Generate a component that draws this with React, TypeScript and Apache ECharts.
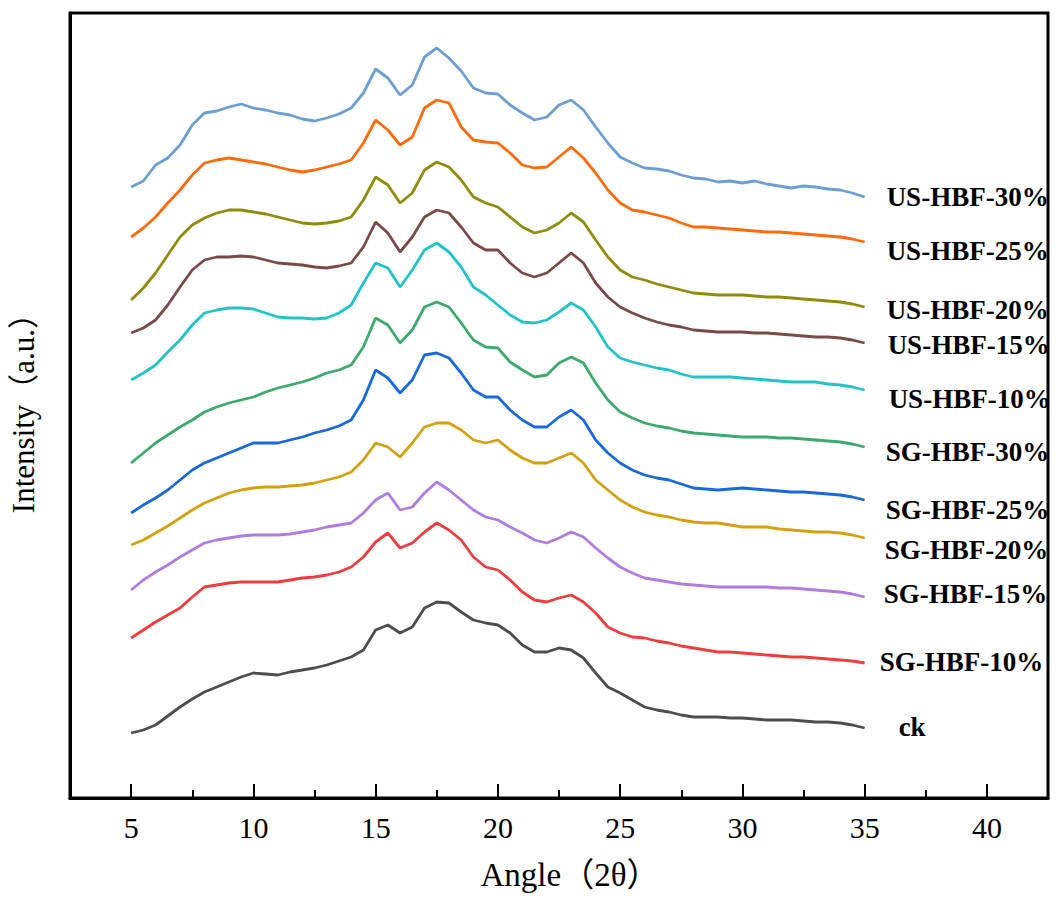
import { useEffect, useRef } from 'react';
import * as echarts from 'echarts';

// 2θ sampling positions shared by every pattern
const angles = [
  5, 5.5, 6, 6.5, 7, 7.5, 8, 8.5, 9, 9.5, 10, 10.5, 11, 11.5, 12, 12.5, 13, 13.5, 14, 14.5,
  15, 15.5, 16, 16.5, 17, 17.5, 18, 18.5, 19, 19.5, 20, 20.5, 21, 21.5, 22, 22.5, 23, 23.5, 24, 24.5,
  25, 25.5, 26, 26.5, 27, 27.5, 28, 28.5, 29, 29.5, 30, 30.5, 31, 31.5, 32, 32.5, 33, 33.5, 34, 34.5, 35
];

// stacked intensities (offset already included), a.u.
const usHbf30 = [
  611, 617, 633, 640, 653, 673, 685, 687, 691, 694, 690, 688, 685, 683, 679, 677, 680, 684, 690, 705,
  729, 720, 703, 713, 741, 750, 740, 727, 710, 705, 704, 693, 685, 678, 681, 693, 698, 688, 671, 655,
  641, 635, 630, 629, 627, 623, 620, 619, 616, 617, 615, 617, 614, 612, 610, 612, 611, 609, 608, 605, 601
];
const usHbf25 = [
  561, 570, 581, 595, 608, 623, 635, 638, 640, 638, 636, 634, 631, 628, 626, 628, 631, 634, 638, 655,
  678, 668, 653, 661, 690, 698, 695, 671, 658, 656, 655, 645, 633, 630, 631, 641, 651, 640, 625, 608,
  595, 588, 586, 583, 580, 575, 571, 571, 570, 569, 568, 567, 566, 566, 565, 564, 563, 562, 561, 559, 556
];
const usHbf20 = [
  498, 510, 525, 543, 561, 573, 580, 585, 588, 588, 586, 584, 581, 578, 575, 574, 575, 577, 581, 598,
  621, 613, 595, 605, 628, 636, 631, 618, 601, 595, 591, 581, 571, 565, 568, 575, 585, 576, 558, 541,
  528, 521, 518, 514, 511, 508, 505, 504, 503, 503, 503, 502, 501, 501, 500, 499, 498, 497, 496, 494, 491
];
const usHbf15 = [
  465, 470, 478, 493, 511, 528, 538, 541, 541, 542, 541, 538, 535, 534, 533, 531, 530, 532, 535, 551,
  576, 565, 546, 561, 581, 588, 585, 571, 555, 548, 548, 535, 525, 521, 525, 535, 545, 535, 515, 501,
  491, 485, 480, 476, 473, 471, 468, 467, 466, 466, 466, 465, 465, 464, 463, 462, 461, 461, 460, 458, 455
];
const usHbf10 = [
  418, 425, 433, 446, 458, 473, 485, 488, 490, 490, 489, 485, 481, 480, 480, 479, 480, 485, 493, 515,
  535, 530, 511, 528, 548, 555, 546, 531, 511, 503, 493, 483, 476, 475, 478, 486, 495, 488, 471, 451,
  440, 436, 433, 430, 428, 424, 421, 421, 421, 421, 420, 419, 418, 417, 416, 416, 416, 414, 413, 411, 408
];
const sgHbf30 = [
  335, 345, 355, 363, 371, 378, 386, 391, 395, 398, 401, 406, 410, 413, 416, 420, 425, 428, 433, 451,
  480, 473, 455, 468, 491, 496, 491, 475, 458, 451, 450, 436, 428, 421, 423, 435, 441, 435, 415, 398,
  386, 380, 375, 372, 370, 367, 365, 364, 363, 362, 361, 361, 361, 360, 360, 359, 358, 357, 356, 354, 351
];
const sgHbf25 = [
  285, 293, 300, 308, 318, 328, 335, 340, 345, 350, 355, 355, 355, 358, 361, 365, 368, 372, 378, 398,
  428, 420, 405, 418, 443, 445, 440, 425, 408, 401, 401, 388, 378, 371, 371, 381, 388, 378, 358, 345,
  335, 328, 323, 320, 318, 314, 310, 309, 308, 309, 310, 309, 308, 307, 306, 306, 305, 304, 303, 301, 298
];
const sgHbf20 = [
  253, 258, 265, 272, 280, 288, 295, 300, 305, 308, 310, 311, 311, 312, 313, 315, 318, 321, 326, 338,
  355, 351, 341, 355, 371, 375, 375, 368, 358, 355, 358, 348, 340, 335, 335, 340, 345, 335, 318, 308,
  298, 291, 286, 283, 281, 278, 276, 275, 275, 273, 271, 271, 271, 269, 268, 267, 266, 266, 265, 263, 260
];
const sgHbf15 = [
  208, 218, 226, 233, 241, 248, 255, 258, 260, 262, 263, 263, 263, 264, 266, 268, 271, 273, 275, 285,
  298, 305, 288, 291, 305, 316, 308, 298, 288, 281, 278, 271, 265, 258, 255, 260, 266, 261, 250, 240,
  231, 225, 220, 218, 216, 214, 213, 212, 211, 211, 211, 211, 211, 210, 210, 209, 208, 207, 206, 204, 201
];
const sgHbf10 = [
  160, 168, 176, 183, 190, 201, 211, 213, 215, 216, 216, 216, 216, 218, 220, 221, 223, 226, 231, 241,
  256, 265, 250, 255, 266, 275, 268, 258, 241, 231, 228, 218, 206, 198, 196, 200, 203, 196, 185, 171,
  165, 161, 160, 157, 155, 152, 150, 148, 146, 146, 145, 144, 143, 142, 141, 141, 140, 139, 138, 137, 135
];
const ck = [
  65, 68, 73, 82, 91, 99, 106, 111, 116, 121, 125, 124, 123, 126, 128, 130, 133, 137, 141, 148,
  168, 173, 165, 171, 190, 196, 195, 186, 178, 175, 173, 165, 153, 146, 146, 150, 148, 140, 125, 111,
  105, 98, 91, 88, 86, 83, 81, 81, 81, 80, 80, 79, 78, 78, 78, 77, 76, 76, 75, 73, 70
];

const seriesNames = [
  'US-HBF-30%', 'US-HBF-25%', 'US-HBF-20%', 'US-HBF-15%', 'US-HBF-10%',
  'SG-HBF-30%', 'SG-HBF-25%', 'SG-HBF-20%', 'SG-HBF-15%', 'SG-HBF-10%', 'ck'
];
const seriesValues = [
  usHbf30, usHbf25, usHbf20, usHbf15, usHbf10,
  sgHbf30, sgHbf25, sgHbf20, sgHbf15, sgHbf10, ck
];
const colors = [
  '#6b9fd4', '#ff6a0a', '#8f8c0c', '#7a4a46', '#20c4c8',
  '#3caa6c', '#1868de', '#d4a010', '#b07ce0', '#ef3c3c', '#4d4d4d'
];
// where each name sits relative to the end of its curve
const labelOffsets = [
  [14, 0], [14, 9], [14, 3], [15, 2], [16, 9],
  [13, 5], [13, 10], [12, 12], [11, -3], [7, -1], [26, -1]
];

const SERIF = "'Liberation Serif', 'Times New Roman', 'Noto Sans CJK SC', serif";

export default function App() {
  const chartRef = useRef<HTMLDivElement>(null);

  useEffect(() => {
    document.body.style.margin = '0';
    if (!chartRef.current) return;
    const chart = echarts.init(chartRef.current, undefined, { renderer: 'svg' });

    const left = 70;
    const top = 13;
    const width = 978;
    const height = 785;
    // second grid only carries the long ticks and labels at 5..40
    const majorLeft = left + (width * 2.5) / 40;
    const majorWidth = (width * 35) / 40;

    const series = seriesNames.map((name, i) => ({
      name,
      type: 'line',
      xAxisIndex: 0,
      yAxisIndex: 0,
      data: angles.map((a, j) => [a, seriesValues[i][j]]),
      showSymbol: false,
      lineStyle: { width: 2.8, color: colors[i] },
      itemStyle: { color: colors[i] },
      endLabel: {
        show: true,
        formatter: name,
        color: '#000',
        fontFamily: SERIF,
        fontWeight: 'bold',
        fontSize: 27,
        offset: labelOffsets[i]
      }
    }));

    chart.setOption({
      animation: false,
      backgroundColor: '#fff',
      grid: [
        {
          left,
          top,
          width,
          height,
          show: true,
          borderColor: '#000',
          borderWidth: 3
        },
        {
          left: majorLeft,
          top,
          width: majorWidth,
          height
        }
      ],
      xAxis: [
        {
          type: 'value',
          gridIndex: 0,
          min: 2.5,
          max: 42.5,
          interval: 2.5,
          axisLine: { show: true, lineStyle: { color: '#000', width: 3 } },
          axisTick: { show: true, inside: true, length: 8, lineStyle: { color: '#000', width: 2 } },
          axisLabel: { show: false },
          splitLine: { show: false }
        },
        {
          type: 'value',
          gridIndex: 1,
          min: 5,
          max: 40,
          interval: 5,
          axisLine: { show: false },
          axisTick: { show: true, inside: true, length: 14, lineStyle: { color: '#000', width: 2 } },
          axisLabel: { color: '#000', fontFamily: SERIF, fontSize: 30, margin: 14 },
          splitLine: { show: false },
          name: 'Angle（2θ）',
          nameLocation: 'middle',
          nameGap: 60,
          nameTextStyle: { color: '#000', fontFamily: SERIF, fontSize: 33, padding: [0, 0, 0, 22] }
        }
      ],
      yAxis: [
        {
          type: 'value',
          gridIndex: 0,
          min: 0,
          max: 785,
          axisLine: { show: true, lineStyle: { color: '#000', width: 3 } },
          axisTick: { show: false },
          axisLabel: { show: false },
          splitLine: { show: false },
          name: 'Intensity（a.u.）',
          nameLocation: 'middle',
          nameGap: 31,
          nameTextStyle: { color: '#000', fontFamily: SERIF, fontSize: 31 }
        },
        {
          type: 'value',
          gridIndex: 1,
          show: false
        }
      ],
      series
    });

    return () => {
      chart.dispose();
    };
  }, []);

  return <div ref={chartRef} style={{ width: 1061, height: 907 }}></div>;
}
